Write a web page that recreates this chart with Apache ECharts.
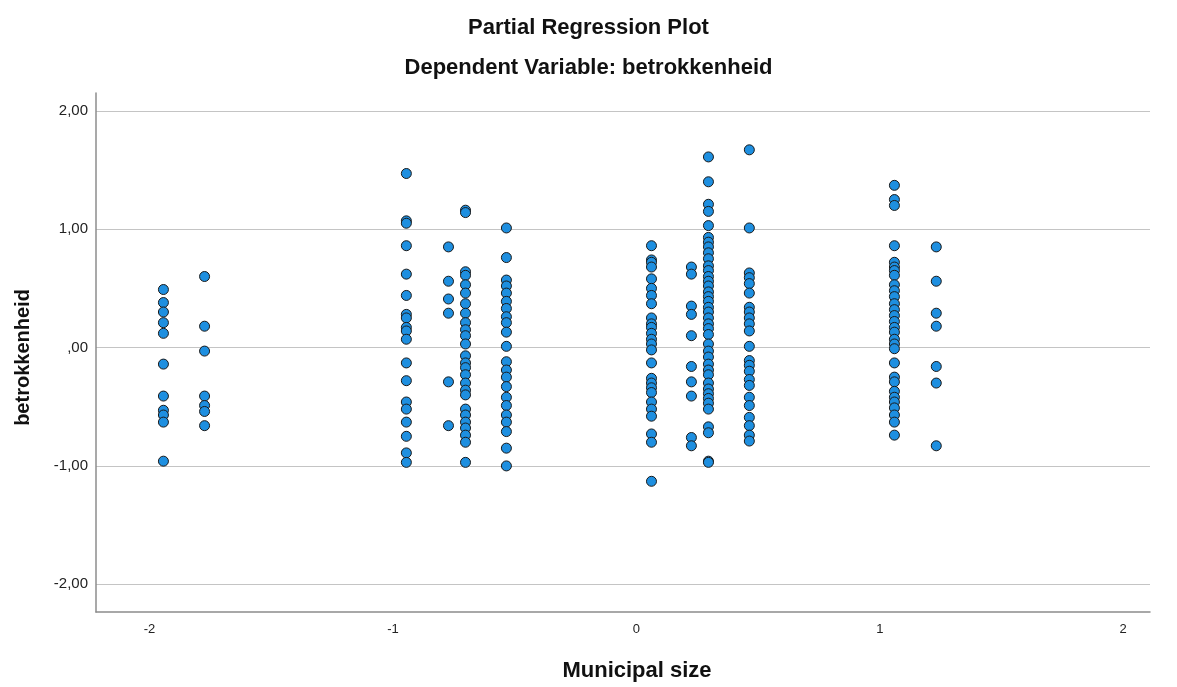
<!DOCTYPE html>
<html>
<head>
<meta charset="utf-8">
<script src="https://cdn.jsdelivr.net/npm/echarts@6/dist/echarts.min.js"></script>
<style>
html,body{margin:0;padding:0;background:#fff;}
#chart{width:1177px;height:687px;}
</style>
</head>
<body>
<div id="chart"></div>
<script>
// Column x-positions (Municipal size residuals)
const colX = [-1.943, -1.774, -0.945, -0.772, -0.702, -0.534, 0.062, 0.226, 0.296, 0.464, 1.060, 1.232];

// betrokkenheid residuals per column
const col1 = [0.49, 0.38, 0.30, 0.21, 0.12, -0.14, -0.41, -0.53, -0.57, -0.63, -0.96];
const col2 = [0.60, 0.18, -0.03, -0.41, -0.49, -0.54, -0.66];
const col3 = [1.47, 1.07, 1.05, 0.86, 0.62, 0.44, 0.28, 0.25, 0.17, 0.14, 0.07, -0.13, -0.28, -0.46, -0.52, -0.63, -0.75, -0.89, -0.97];
const col4 = [0.85, 0.56, 0.41, 0.29, -0.29, -0.66];
const col5 = [1.16, 1.14, 0.64, 0.61, 0.53, 0.46, 0.37, 0.29, 0.21, 0.15, 0.10, 0.03, -0.07, -0.13, -0.17, -0.23, -0.30, -0.36, -0.40, -0.52, -0.57, -0.63, -0.68, -0.74, -0.80, -0.97];
const col6 = [1.01, 0.76, 0.57, 0.52, 0.46, 0.39, 0.33, 0.26, 0.21, 0.13, 0.01, -0.12, -0.19, -0.25, -0.33, -0.42, -0.49, -0.57, -0.63, -0.71, -0.85, -1.00];
const col7 = [0.86, 0.74, 0.72, 0.68, 0.58, 0.50, 0.44, 0.37, 0.25, 0.20, 0.17, 0.12, 0.07, 0.03, -0.02, -0.13, -0.26, -0.30, -0.34, -0.38, -0.46, -0.52, -0.58, -0.73, -0.80, -1.13];
const col8 = [0.68, 0.62, 0.35, 0.28, 0.10, -0.16, -0.29, -0.41, -0.76, -0.83];
const col9 = [1.61, 1.40, 1.21, 1.15, 1.03, 0.93, 0.89, 0.85, 0.80, 0.75, 0.69, 0.65, 0.60, 0.56, 0.52, 0.47, 0.43, 0.39, 0.34, 0.30, 0.25, 0.20, 0.16, 0.11, 0.03, -0.03, -0.08, -0.14, -0.19, -0.23, -0.30, -0.35, -0.39, -0.43, -0.47, -0.52, -0.67, -0.72, -0.96, -0.97];
const col10 = [1.67, 1.01, 0.63, 0.59, 0.54, 0.46, 0.34, 0.30, 0.25, 0.20, 0.14, 0.01, -0.11, -0.15, -0.20, -0.27, -0.32, -0.42, -0.49, -0.59, -0.66, -0.74, -0.79];
const col11 = [1.37, 1.25, 1.20, 0.86, 0.72, 0.68, 0.65, 0.61, 0.53, 0.48, 0.43, 0.37, 0.32, 0.27, 0.22, 0.17, 0.13, 0.07, 0.03, -0.01, -0.13, -0.25, -0.29, -0.37, -0.42, -0.46, -0.51, -0.57, -0.63, -0.74];
const col12 = [0.85, 0.56, 0.29, 0.18, -0.16, -0.30, -0.83];

const columns = [col1, col2, col3, col4, col5, col6, col7, col8, col9, col10, col11, col12];

const xTicks = [-2, -1, 0, 1, 2];
const yTicks = [-2, -1, 0, 1, 2];

const points = [];
columns.forEach((ys, i) => ys.forEach(y => points.push([colX[i], y])));

const fontFam = 'Liberation Sans, Arial, sans-serif';

const chart = echarts.init(document.getElementById('chart'), null, {renderer: 'canvas'});
chart.setOption({
  animation: false,
  backgroundColor: '#ffffff',
  title: [
    {text: 'Partial Regression Plot', left: 'center', top: 12,
     textStyle: {fontFamily: fontFam, fontSize: 22, fontWeight: 'bold', color: '#111'}},
    {text: 'Dependent Variable: betrokkenheid', left: 'center', top: 52,
     textStyle: {fontFamily: fontFam, fontSize: 22, fontWeight: 'bold', color: '#111'}}
  ],
  grid: {left: 96, right: 27, top: 93, bottom: 75, containLabel: false},
  xAxis: {
    type: 'value',
    min: -2.22, max: 2.11,
    name: 'Municipal size',
    nameLocation: 'middle',
    nameGap: 48,
    nameTextStyle: {fontFamily: fontFam, fontSize: 22, fontWeight: 'bold', color: '#111', padding: [0, 0, 0, 28]},
    axisLine: {show: true, onZero: false, lineStyle: {color: '#8c8c8c', width: 1.5}},
    axisTick: {show: false, customValues: xTicks},
    axisLabel: {customValues: xTicks, margin: 11, fontFamily: fontFam, fontSize: 13, color: '#222',
      formatter: v => String(v)},
    splitLine: {show: false}
  },
  yAxis: {
    type: 'value',
    min: -2.234, max: 2.15,
    name: 'betrokkenheid',
    nameLocation: 'middle',
    nameGap: 63,
    nameTextStyle: {fontFamily: fontFam, fontSize: 20, fontWeight: 'bold', color: '#111', padding: [0, 10, 0, 0]},
    axisLine: {show: true, onZero: false, lineStyle: {color: '#8c8c8c', width: 1.5}},
    axisTick: {show: false, customValues: yTicks},
    axisLabel: {customValues: yTicks, margin: 8, fontFamily: fontFam, fontSize: 15, color: '#222',
      formatter: v => v === 0 ? ',00' : v.toFixed(2).replace('.', ',')},
    splitLine: {show: true, lineStyle: {color: '#c4c4c4', width: 1.2}}
  },
  series: [{
    type: 'scatter',
    data: points,
    symbol: 'circle',
    symbolSize: 10,
    itemStyle: {color: '#1e8fe0', borderColor: '#1a1a1a', borderWidth: 1, opacity: 1}
  }]
});
</script>
</body>
</html>
